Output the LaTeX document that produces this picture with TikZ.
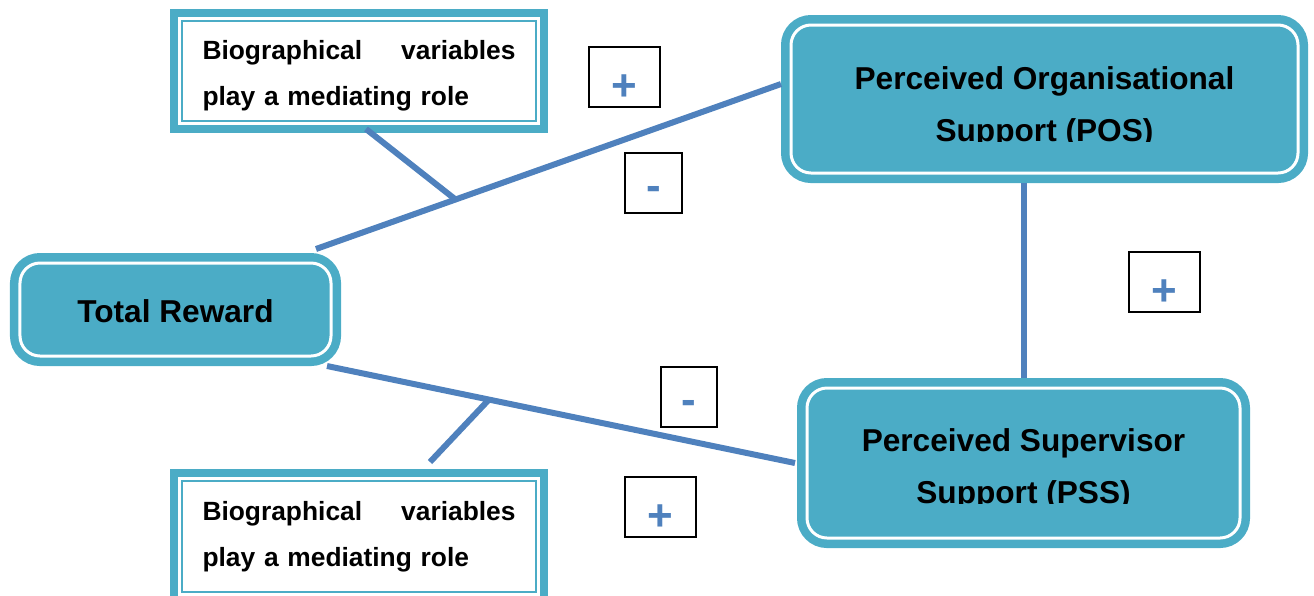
\documentclass[tikz,border=0pt]{standalone}
\usepackage{fontspec}
\setmainfont{Liberation Sans}

\definecolor{boxteal}{HTML}{4BACC6}
\definecolor{linkblue}{HTML}{4F81BD}

\tikzset{
	factor/.style={rectangle, rounded corners=4mm, fill=boxteal, draw=white, line width=0.6mm, inner sep=0pt, outer sep=0pt, font=\fontsize{18}{29.6}\selectfont\bfseries, preaction={draw=boxteal, line width=4mm}},
	factortext/.style={align=center, inner sep=0pt, font=\fontsize{18}{29.6}\selectfont\bfseries},
	bio/.style={rectangle, draw=boxteal, line width=1.6mm, fill=white, minimum width=74mm, minimum height=23.2mm, inner sep=0pt, outer sep=0pt,
		path picture={\draw[boxteal, line width=0.4mm] ([shift={(1.6mm,-1.6mm)}]path picture bounding box.north west) rectangle ([shift={(-1.6mm,1.6mm)}]path picture bounding box.south east);}},
	biotext/.style={inner sep=0pt, text width=62.6mm, align=left, font=\fontsize{15}{26.1}\selectfont\bfseries},
	signbox/.style={rectangle, draw=black, line width=0.4mm, fill=white, minimum height=12mm, inner sep=0pt, text=linkblue, font=\fontsize{25}{30}\selectfont\bfseries, text depth=0pt},
	plusbox/.style={signbox, text height=9.4mm},
	minusbox/.style={signbox, text height=7mm},
	link/.style={draw=linkblue, line width=1.2mm}
}

\begin{document}
\begin{tikzpicture}[x=0.2mm, y=-0.2mm]
	\path[use as bounding box, clip] (0,0) rectangle (1314,595);
	\node[factor, minimum width=62.2mm, minimum height=18.6mm] (tr) at (175.5,309.5) {};
	\node[factortext] (trText) at (175.5,311) {Total Reward};
	\node[factor, minimum width=101.4mm, minimum height=29.6mm] (pos) at (1044.5,99) {};
	\node[factor, minimum width=86.6mm, minimum height=30mm] (pss) at (1023.5,463) {};
	\begin{scope}
		\clip (781,0) rectangle (1308,141);
		\node[factortext] (posText) at (1044.5,107.6) {Perceived Organisational\\Support (POS)};
	\end{scope}
	\begin{scope}
		\clip (797,380) rectangle (1250,503);
		\node[factortext] (pssText) at (1023.5,469.2) {Perceived Supervisor\\Support (PSS)};
	\end{scope}
	\node[bio] (bioTop) at (359,71) {};
	\node[biotext] (bioTopText) at (359,76) {Biographical\hfill variables\\play a mediating role};
	\node[bio, minimum height=25.4mm] (bioBot) at (359,536.5) {};
	\node[biotext] (bioBotText) at (359,537) {Biographical\hfill variables\\play a mediating role};

	\draw[link] ([shift={(-15,-14)}]tr.north east) -- coordinate[pos=0.3] (joinA) ([shift={(-10,-15)}]pos.west);
	\draw[link] ([shift={(-4,10)}]tr.south east) -- coordinate[pos=0.346] (joinB) ([shift={(-12,0)}]pss.west);
	\draw[link] ([shift={(7,0)}]bioTop.south) -- (joinA);
	\draw[link] ([shift={(71,-11)}]bioBot.north) -- (joinB);
	\draw[link, shorten <=2mm, shorten >=2mm] (pos.south -| pss.north) -- (pss.north);

	\node[plusbox, minimum width=14.2mm] (plusA) at (624.5,77) {+};
	\node[minusbox, minimum width=11.4mm] (minusA) at (653.5,182.5) {-};
	\node[plusbox, minimum width=14.2mm] (plusC) at (1164.5,281.5) {+};
	\node[minusbox, minimum width=11.2mm] (minusB) at (689,396.5) {-};
	\node[plusbox, minimum width=14.2mm] (plusB) at (660.5,506.5) {+};
\end{tikzpicture}
\end{document}
